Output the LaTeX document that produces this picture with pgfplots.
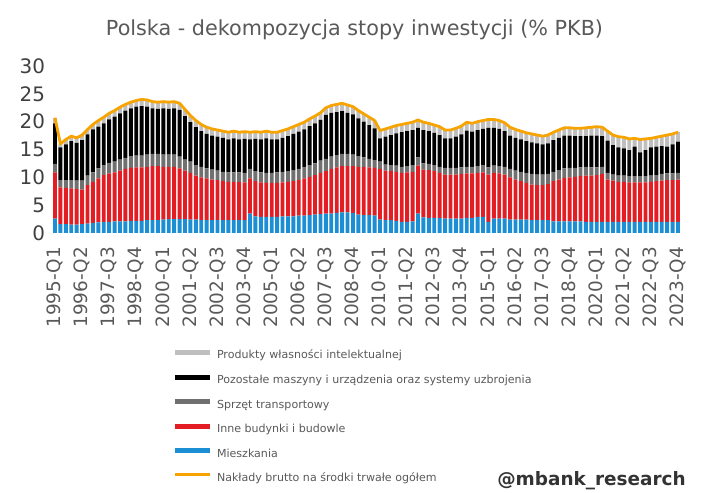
\documentclass[border=0pt]{standalone}
\usepackage{fontspec}
\setmainfont{DejaVu Sans}
\usepackage{pgfplots}
\usepackage{pgfplotstable}
\pgfplotsset{compat=1.18}
\definecolor{cM}{RGB}{28,142,212}
\definecolor{cB}{RGB}{226,30,36}
\definecolor{cT}{RGB}{112,112,112}
\definecolor{cO}{RGB}{0,0,0}
\definecolor{cP}{RGB}{191,191,191}
\definecolor{cL}{RGB}{247,163,0}
\definecolor{txtgrey}{RGB}{89,89,89}
\definecolor{ytxt}{RGB}{64,64,64}
\definecolor{wm}{RGB}{51,51,51}
\pgfplotstableread{
i M B T O P Tot
0 2.6 8.3 1.5 7.3 1.0 20.7
1 1.6 6.6 1.3 5.9 0.6 16.0
2 1.6 6.5 1.4 6.4 0.9 16.8
3 1.5 6.5 1.5 7.0 0.9 17.4
4 1.5 6.4 1.5 6.8 0.9 17.1
5 1.6 6.2 1.6 7.3 0.9 17.6
6 1.7 6.9 1.7 7.4 0.9 18.6
7 1.8 7.4 1.7 7.7 0.9 19.5
8 1.9 7.9 1.8 7.5 1.1 20.2
9 2.0 8.4 1.8 7.5 1.1 20.8
10 2.0 8.7 1.9 7.8 1.1 21.5
11 2.1 8.8 1.9 8.1 1.1 22.0
12 2.1 9.1 2.0 8.3 1.1 22.6
13 2.1 9.4 2.0 8.5 1.1 23.1
14 2.2 9.5 2.1 8.6 1.1 23.5
15 2.2 9.6 2.1 8.8 1.1 23.8
16 2.2 9.6 2.1 8.9 1.2 24.0
17 2.3 9.6 2.2 8.6 1.2 23.9
18 2.3 9.7 2.2 8.2 1.2 23.6
19 2.3 9.7 2.2 8.1 1.2 23.5
20 2.4 9.5 2.2 8.3 1.2 23.6
21 2.5 9.4 2.2 8.2 1.2 23.5
22 2.5 9.4 2.2 8.3 1.2 23.6
23 2.5 9.1 2.1 8.4 1.2 23.3
24 2.5 8.7 2.0 7.8 1.2 22.2
25 2.4 8.4 2.0 7.1 1.2 21.1
26 2.4 7.9 1.9 6.8 1.2 20.2
27 2.3 7.7 1.9 6.4 1.2 19.5
28 2.3 7.5 1.8 6.2 1.2 19.0
29 2.3 7.3 1.8 6.1 1.2 18.7
30 2.3 7.2 1.7 6.1 1.2 18.5
31 2.3 7.0 1.7 6.1 1.2 18.3
32 2.3 6.9 1.7 5.9 1.3 18.1
33 2.3 6.9 1.7 6.1 1.3 18.3
34 2.3 6.9 1.7 5.9 1.3 18.1
35 2.3 6.8 1.7 6.1 1.3 18.2
36 3.5 6.3 1.7 5.3 1.3 18.1
37 3.0 6.3 1.8 5.8 1.3 18.2
38 2.9 6.2 1.8 5.9 1.3 18.1
39 2.9 6.1 1.8 6.2 1.3 18.3
40 2.9 6.1 1.8 6.0 1.3 18.1
41 2.9 6.1 1.9 5.9 1.3 18.1
42 3.0 6.1 1.9 6.1 1.3 18.4
43 3.0 6.2 1.9 6.3 1.3 18.7
44 3.0 6.3 2.0 6.5 1.3 19.1
45 3.1 6.4 2.0 6.7 1.3 19.5
46 3.1 6.7 2.1 6.7 1.3 19.9
47 3.2 6.9 2.1 7.0 1.3 20.5
48 3.3 7.1 2.1 7.2 1.3 21.0
49 3.4 7.4 2.2 7.3 1.3 21.6
50 3.5 7.6 2.2 7.9 1.3 22.5
51 3.5 8.0 2.2 7.9 1.3 22.9
52 3.6 8.2 2.2 7.7 1.4 23.1
53 3.7 8.3 2.2 7.7 1.4 23.3
54 3.7 8.3 2.2 7.4 1.4 23.0
55 3.6 8.4 2.1 7.2 1.4 22.7
56 3.3 8.6 1.9 6.8 1.4 22.0
57 3.2 8.7 1.7 6.4 1.4 21.4
58 3.2 8.6 1.5 6.1 1.4 20.8
59 3.1 8.6 1.4 5.7 1.4 20.2
60 2.4 9.1 1.3 4.2 1.4 18.4
61 2.3 8.9 1.1 5.0 1.4 18.7
62 2.3 8.8 1.1 5.4 1.4 19.0
63 2.2 8.8 1.1 5.8 1.4 19.3
64 2.0 8.8 1.1 6.2 1.4 19.5
65 2.0 8.9 1.1 6.3 1.4 19.7
66 2.1 8.9 1.2 6.3 1.4 19.9
67 3.5 8.6 1.5 5.3 1.4 20.3
68 2.8 8.6 1.1 6.0 1.4 19.9
69 2.7 8.6 1.1 5.9 1.4 19.7
70 2.7 8.4 1.1 5.8 1.4 19.4
71 2.7 8.1 1.1 5.7 1.5 19.1
72 2.6 7.9 1.2 5.3 1.5 18.5
73 2.6 7.9 1.2 5.3 1.5 18.5
74 2.6 7.9 1.2 5.6 1.5 18.8
75 2.6 8.0 1.2 5.9 1.5 19.2
76 2.7 8.0 1.2 6.5 1.5 19.9
77 2.7 8.0 1.2 6.3 1.5 19.7
78 2.9 7.9 1.2 6.5 1.5 20.0
79 2.9 8.0 1.3 6.5 1.5 20.2
80 2.0 8.5 1.3 7.1 1.5 20.4
81 2.6 8.2 1.3 6.8 1.5 20.4
82 2.6 8.1 1.3 6.7 1.5 20.2
83 2.6 7.9 1.4 6.4 1.5 19.8
84 2.4 7.6 1.5 6.0 1.5 19.0
85 2.4 7.2 1.6 5.9 1.5 18.6
86 2.4 6.9 1.7 5.8 1.5 18.3
87 2.4 6.6 1.8 5.7 1.5 18.0
88 2.3 6.4 1.9 5.7 1.5 17.8
89 2.3 6.3 1.9 5.6 1.5 17.6
90 2.3 6.3 1.9 5.4 1.5 17.4
91 2.3 6.5 1.8 5.5 1.5 17.6
92 2.1 7.2 1.7 5.7 1.4 18.1
93 2.1 7.5 1.7 5.8 1.4 18.5
94 2.1 7.8 1.7 5.9 1.4 18.9
95 2.1 7.9 1.7 5.8 1.4 18.9
96 2.1 8.0 1.6 5.7 1.4 18.8
97 2.1 8.1 1.6 5.6 1.4 18.8
98 2.0 8.3 1.6 5.5 1.5 18.9
99 2.0 8.3 1.5 5.7 1.5 19.0
100 2.0 8.4 1.4 5.7 1.6 19.1
101 2.0 8.6 1.3 5.5 1.6 19.0
102 2.0 7.6 1.2 5.8 1.7 18.3
103 2.0 7.4 1.1 5.3 1.8 17.6
104 2.0 7.2 1.1 5.1 1.9 17.3
105 2.0 7.2 1.1 4.9 2.0 17.2
106 2.0 7.1 1.1 4.7 2.0 16.9
107 2.0 7.1 1.1 5.3 1.5 17.0
108 2.0 7.1 1.1 4.3 2.3 16.8
109 2.0 7.1 1.1 4.7 2.0 16.9
110 2.0 7.2 1.1 5.1 1.6 17.0
111 2.0 7.3 1.1 5.1 1.7 17.2
112 2.0 7.4 1.2 5.0 1.8 17.4
113 2.0 7.5 1.2 4.8 2.1 17.6
114 2.0 7.5 1.2 5.2 1.9 17.8
115 2.0 7.6 1.2 5.6 1.7 18.1
}\datatable
\begin{document}
\begin{tikzpicture}
\path[use as bounding box] (0,0) rectangle (709bp,493bp);
\node[text=txtgrey, font=\fontsize{20.8}{25}\selectfont] at (354.5bp,463bp) {Polska - dekompozycja stopy inwestycji (\% PKB)};
\begin{axis}[
  at={(52.3bp,260bp)}, anchor=south west,
  scale only axis, width=628.4bp, height=167bp,
  xmin=-0.5, xmax=115.5, ymin=0, ymax=30,
  ybar stacked, bar width=3.9bp,
  axis line style={draw=none},
  major tick length=0pt,
  ytick={0,5,10,15,20,25,30},
  xtick={0,5,...,115},
  xticklabels={1995-Q1,1996-Q2,1997-Q3,1998-Q4,2000-Q1,2001-Q2,2002-Q3,2003-Q4,2005-Q1,2006-Q2,2007-Q3,2008-Q4,2010-Q1,2011-Q2,2012-Q3,2013-Q4,2015-Q1,2016-Q2,2017-Q3,2018-Q4,2020-Q1,2021-Q2,2022-Q3,2023-Q4},
  /pgf/number format/assume math mode=true,
  yticklabel style={font=\fontsize{20}{20}\selectfont, text=ytxt, inner sep=0pt},
  yticklabel shift=7bp,
  xticklabel style={rotate=90, anchor=east, font=\fontsize{18.5}{18.5}\selectfont, text=txtgrey, inner sep=0pt},
  xticklabel shift=14bp,
]
\addplot[fill=cM, draw=none] table[x=i,y=M]{\datatable};
\addplot[fill=cB, draw=none] table[x=i,y=B]{\datatable};
\addplot[fill=cT, draw=none] table[x=i,y=T]{\datatable};
\addplot[fill=cO, draw=none] table[x=i,y=O]{\datatable};
\addplot[fill=cP, draw=none] table[x=i,y=P]{\datatable};
\end{axis}
\begin{axis}[
  at={(52.3bp,260bp)}, anchor=south west,
  scale only axis, width=628.4bp, height=167bp,
  xmin=-0.5, xmax=115.5, ymin=0, ymax=30,
  hide axis,
  legend image code/.code={\draw[#1] (0bp,3.6bp) -- (35bp,3.6bp);},
  legend cell align=left,
  legend style={at={(rel axis cs:0.1905,-0.701)}, anchor=north west, draw=none, fill=none,
    inner sep=0pt, outer sep=0pt, row sep=13.1bp, column sep=5bp,
    font=\fontsize{11.1}{13}\selectfont, text=txtgrey,
    nodes={inner sep=0pt, text height=8.2bp, text depth=2.6bp}},
]
\addlegendimage{color=cP, line width=5bp}
\addlegendentry{Produkty własności intelektualnej}
\addlegendimage{color=cO, line width=5bp}
\addlegendentry{Pozostałe maszyny i urządzenia oraz systemy uzbrojenia}
\addlegendimage{color=cT, line width=5bp}
\addlegendentry{Sprzęt transportowy}
\addlegendimage{color=cB, line width=5bp}
\addlegendentry{Inne budynki i budowle}
\addlegendimage{color=cM, line width=5bp}
\addlegendentry{Mieszkania}
\addplot[color=cL, line width=2.8bp, line join=round] table[x=i,y=Tot]{\datatable};
\addlegendentry{Nakłady brutto na środki trwałe ogółem}
\end{axis}
\node[font=\bfseries\fontsize{18.5}{18.5}\selectfont, text=wm] at (591.5bp,12bp) {@mbank\_research};
\end{tikzpicture}
\end{document}
